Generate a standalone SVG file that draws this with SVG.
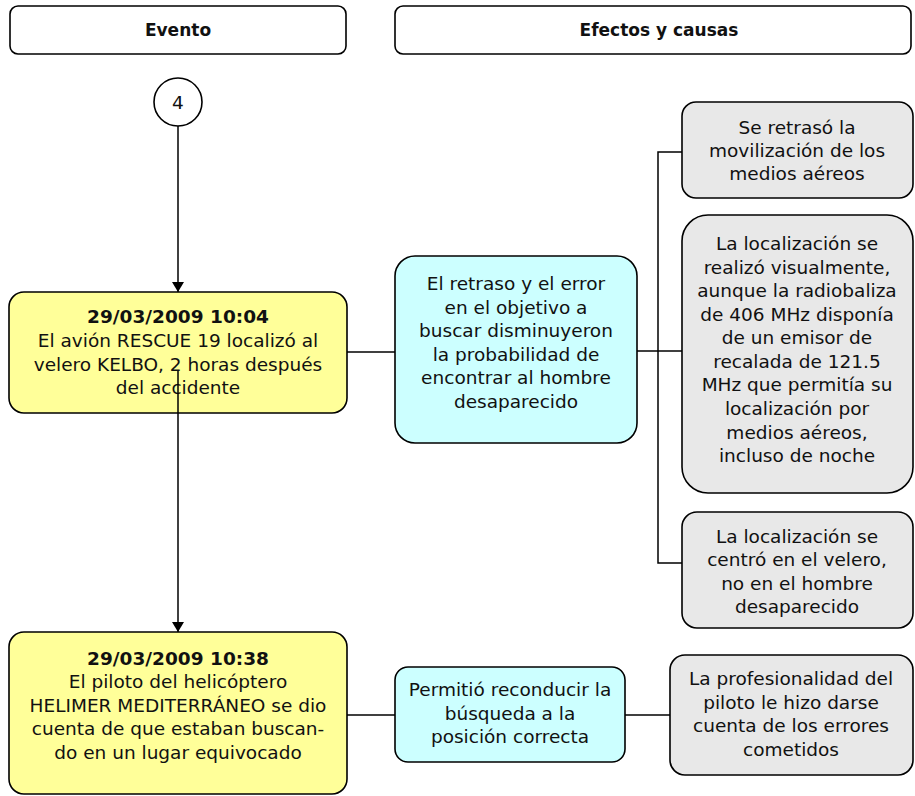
<svg xmlns="http://www.w3.org/2000/svg" width="915" height="796" viewBox="0 0 915 796">
  <defs>
    <marker id="arrow" viewBox="0 0 10 12" refX="10" refY="6" markerWidth="10" markerHeight="12" markerUnits="userSpaceOnUse" orient="auto">
      <path d="M0,0 L10,6 L0,12 Z" fill="#000"/>
    </marker>
  </defs>
  <style>
    text { font-family: "DejaVu Sans", "Liberation Sans", sans-serif; font-size: 18.5px; fill: #111; text-anchor: middle; }
    .hdr rect { fill: #fff; stroke: #000; stroke-width: 1.6; }
    .hdr text { font-weight: bold; font-size: 17px; }
    .evt rect { fill: #ffff99; stroke: #000; stroke-width: 1.6; }
    .eff rect { fill: #ccffff; stroke: #000; stroke-width: 1.6; }
    .cau rect { fill: #e8e8e8; stroke: #000; stroke-width: 1.6; }
    .b { font-weight: bold; }
    .conn path { fill: none; stroke: #000; stroke-width: 1.5; }
  </style>

  <!-- column headers -->
  <g id="hdr-evento" class="hdr">
    <rect x="10" y="6" width="336" height="48" rx="8"/>
    <text x="178" y="36">Evento</text>
  </g>
  <g id="hdr-efectos" class="hdr">
    <rect x="395" y="6" width="516" height="48" rx="8"/>
    <text x="659" y="36">Efectos y causas</text>
  </g>

  <!-- connectors -->
  <g id="connectors" class="conn">
    <path d="M178,126 V292" marker-end="url(#arrow)"/>
    <path d="M178,371 V632" marker-end="url(#arrow)"/>
    <path d="M347,352 H395"/>
    <path d="M637,351 H682"/>
    <path d="M682,152 H658 V563 H682"/>
    <path d="M347,715 H395"/>
    <path d="M625,715 H670"/>
  </g>

  <!-- page connector -->
  <g id="ref-4">
    <circle cx="178" cy="102" r="24" fill="#fff" stroke="#000" stroke-width="1.6"/>
    <text x="178" y="109">4</text>
  </g>

  <!-- events -->
  <g id="evt-1004" class="evt">
    <rect x="9" y="292" width="338" height="121" rx="15"/>
    <text x="178" y="323" class="b">29/03/2009 10:04</text>
    <text x="178" y="347">El avión RESCUE 19 localizó al</text>
    <text x="178" y="371">velero KELBO, 2 horas después</text>
    <text x="178" y="394">del accidente</text>
  </g>
  <path d="M178,371 V413" stroke="#000" stroke-width="1.5"/>
  <g id="evt-1038" class="evt">
    <rect x="9" y="632" width="338" height="162" rx="15"/>
    <text x="178" y="665" class="b">29/03/2009 10:38</text>
    <text x="178" y="688">El piloto del helicóptero</text>
    <text x="178" y="712">HELIMER MEDITERRÁNEO se dio</text>
    <text x="178" y="735">cuenta de que estaban buscan-</text>
    <text x="178" y="759">do en un lugar equivocado</text>
  </g>

  <!-- effects -->
  <g id="eff-1" class="eff">
    <rect x="395" y="256" width="242" height="187" rx="20"/>
    <text x="516" y="290">El retraso y el error</text>
    <text x="516" y="314">en el objetivo a</text>
    <text x="516" y="337">buscar disminuyeron</text>
    <text x="516" y="361">la probabilidad de</text>
    <text x="516" y="384">encontrar al hombre</text>
    <text x="516" y="408">desaparecido</text>
  </g>
  <g id="eff-2" class="eff">
    <rect x="395" y="667" width="230" height="95" rx="13"/>
    <text x="510" y="696">Permitió reconducir la</text>
    <text x="510" y="720">búsqueda a la</text>
    <text x="510" y="743">posición correcta</text>
  </g>

  <!-- causes -->
  <g id="cau-1" class="cau">
    <rect x="682" y="102" width="231" height="96" rx="14"/>
    <text x="797" y="134">Se retrasó la</text>
    <text x="797" y="157">movilización de los</text>
    <text x="797" y="180">medios aéreos</text>
  </g>
  <g id="cau-2" class="cau">
    <rect x="682" y="215" width="231" height="278" rx="26"/>
    <text x="797" y="250">La localización se</text>
    <text x="797" y="274">realizó visualmente,</text>
    <text x="797" y="297">aunque la radiobaliza</text>
    <text x="797" y="321">de 406 MHz disponía</text>
    <text x="797" y="344">de un emisor de</text>
    <text x="797" y="368">recalada de 121.5</text>
    <text x="797" y="391">MHz que permitía su</text>
    <text x="797" y="415">localización por</text>
    <text x="797" y="439">medios aéreos,</text>
    <text x="797" y="462">incluso de noche</text>
  </g>
  <g id="cau-3" class="cau">
    <rect x="682" y="512" width="231" height="116" rx="15"/>
    <text x="797" y="543">La localización se</text>
    <text x="797" y="566">centró en el velero,</text>
    <text x="797" y="590">no en el hombre</text>
    <text x="797" y="613">desaparecido</text>
  </g>
  <g id="cau-4" class="cau">
    <rect x="670" y="655" width="243" height="120" rx="15"/>
    <text x="791" y="685">La profesionalidad del</text>
    <text x="791" y="709">piloto le hizo darse</text>
    <text x="791" y="732">cuenta de los errores</text>
    <text x="791" y="756">cometidos</text>
  </g>
</svg>
